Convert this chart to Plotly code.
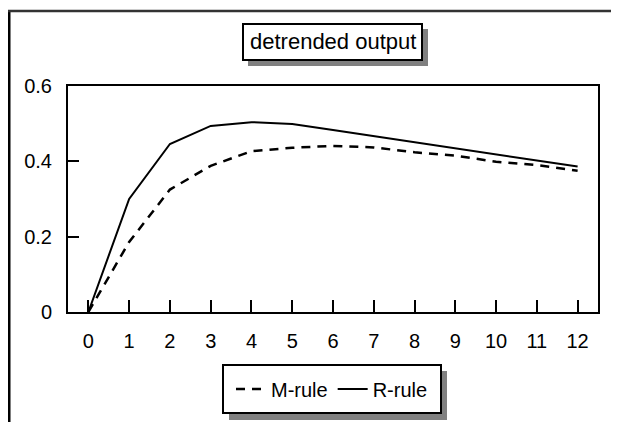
import plotly.graph_objects as go

periods = list(range(13))
m_rule = [0.0, 0.186, 0.325, 0.388, 0.427, 0.436, 0.441, 0.437, 0.424, 0.415, 0.399, 0.390, 0.375]
r_rule = [0.0, 0.300, 0.446, 0.494, 0.504, 0.499, 0.483, 0.467, 0.451, 0.434, 0.418, 0.402, 0.386]
y_ticks = [0, 0.2, 0.4, 0.6]

# page body adds an 8px margin, so the figure is laid out 8px up/left
OFF = 8
W, H = 619 - OFF, 422 - OFF
L, R, T, B = 68 - OFF, 21, 86 - OFF, 110
PW, PH = W - L - R, H - T - B


def px(x):
    # x in screen pixels -> paper coords
    return (x - OFF - L) / PW


def py(y):
    return (H - B - (y - OFF)) / PH


FONT = 'Arial, "Liberation Sans", sans-serif'

fig = go.Figure()
fig.add_trace(
    go.Scatter(
        x=periods,
        y=m_rule,
        mode='lines',
        name='M-rule',
        line=dict(color='black', width=2.5, dash='9px,7px'),
    )
)
fig.add_trace(
    go.Scatter(
        x=periods,
        y=r_rule,
        mode='lines',
        name='R-rule',
        line=dict(color='black', width=2),
    )
)

shapes = [
    # outer frame (left and top edges)
    dict(type='line', xref='paper', yref='paper', x0=px(9), x1=px(9), y0=py(10), y1=py(440),
         line=dict(color='black', width=3)),
    dict(type='line', xref='paper', yref='paper', x0=px(8), x1=px(619), y0=py(11), y1=py(11),
         line=dict(color='#333333', width=2.5)),
    # title box with shadow
    dict(type='rect', xref='paper', yref='paper', x0=px(248), x1=px(428), y0=py(29), y1=py(66),
         fillcolor='#808080', line=dict(width=0)),
    dict(type='rect', xref='paper', yref='paper', x0=px(243), x1=px(422), y0=py(24), y1=py(60),
         fillcolor='white', line=dict(color='black', width=2)),
    # legend box with shadow
    dict(type='rect', xref='paper', yref='paper', x0=px(229), x1=px(447), y0=py(371), y1=py(420),
         fillcolor='#808080', line=dict(width=0)),
    dict(type='rect', xref='paper', yref='paper', x0=px(223), x1=px(441), y0=py(365), y1=py(413),
         fillcolor='white', line=dict(color='black', width=2)),
]

fig.add_annotation(
    text='detrended output',
    xref='paper', yref='paper',
    x=px(332.5), y=py(42),
    xanchor='center', yanchor='middle',
    showarrow=False,
    font=dict(size=22, color='black', family=FONT),
)

fig.update_layout(
    width=W,
    height=H,
    margin=dict(l=L, r=R, t=T, b=B),
    paper_bgcolor='white',
    plot_bgcolor='white',
    font=dict(family=FONT, size=20, color='black'),
    shapes=shapes,
    showlegend=True,
    legend=dict(
        orientation='h',
        x=px(332), y=py(389),
        xanchor='center', yanchor='middle',
        bgcolor='rgba(0,0,0,0)',
        borderwidth=0,
        itemwidth=30,
        font=dict(size=20),
    ),
    xaxis=dict(
        range=[-0.5, 12.5],
        tickvals=periods,
        ticks='inside',
        ticklen=12,
        tickwidth=2,
        tickcolor='black',
        showline=True,
        linecolor='black',
        linewidth=2,
        mirror=True,
        showgrid=False,
        zeroline=False,
        ticklabelstandoff=10,
    ),
    yaxis=dict(
        range=[0, 0.6],
        tickvals=y_ticks,
        ticks='inside',
        ticklen=11,
        tickwidth=2,
        tickcolor='black',
        showline=True,
        linecolor='black',
        linewidth=2,
        mirror=True,
        showgrid=False,
        zeroline=False,
        ticklabelstandoff=10,
    ),
)

fig.write_html("out.html")
